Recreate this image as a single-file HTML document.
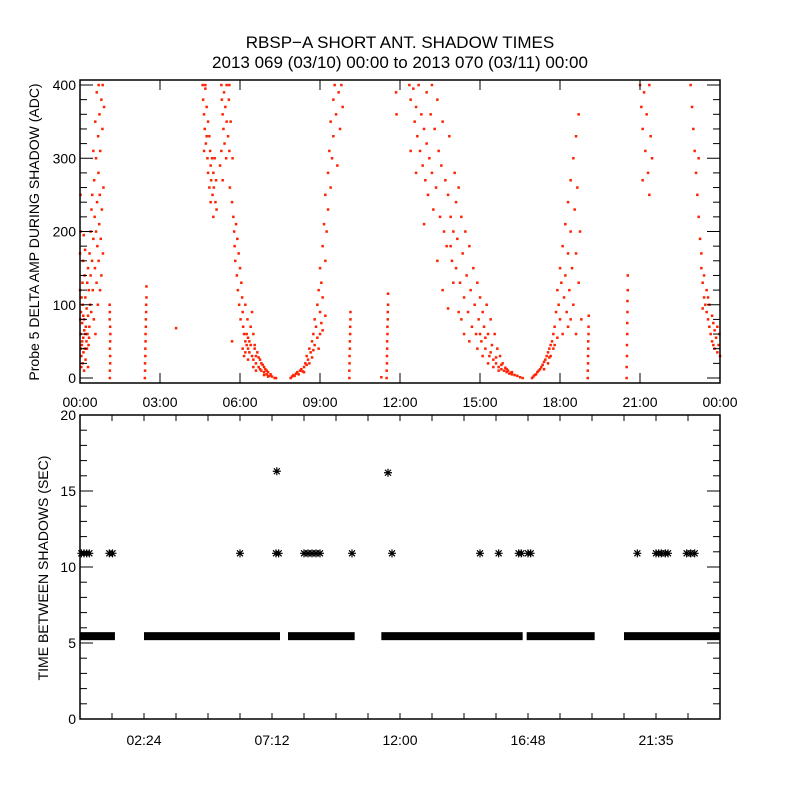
<!DOCTYPE html>
<html><head><meta charset="utf-8"><style>
html,body{margin:0;padding:0;background:#fff;}
svg{display:block;font-family:"Liberation Sans",sans-serif;}
</style></head><body>
<svg id="chart" width="800" height="800" viewBox="0 0 800 800">
<rect width="800" height="800" fill="#fff"/>
<text x="400" y="48" text-anchor="middle" font-size="17">RBSP−A SHORT ANT. SHADOW TIMES</text>
<text x="400" y="68" text-anchor="middle" font-size="17">2013 069 (03/10) 00:00 to 2013 070 (03/11) 00:00</text>
<g id="topPanel"></g>
<g id="botPanel"></g>
</svg>
<script>
// ---------- data: top panel (hours, ADC) ----------
const probePts = [
[0.02,60],[0.04,90],[0.05,30],[0.07,45],[0.08,75],[0.1,20],[0.1,100],[0.12,55],[0.13,35],[0.15,80],[0.16,65],[0.18,40],[0.2,110],[0.21,25],[0.22,70],[0.24,50],[0.25,95],[0.27,130],[0.28,60],[0.3,85],[0.3,150],[0.32,45],[0.33,120],[0.35,70],[0.36,170],[0.38,100],[0.4,140],[0.4,200],[0.42,90],[0.43,230],[0.45,160],[0.46,250],[0.48,120],[0.5,190],[0.5,310],[0.52,80],[0.53,270],[0.55,220],[0.56,150],[0.57,350],[0.58,60],[0.6,200],[0.6,300],[0.62,130],[0.63,390],[0.64,240],[0.65,180],[0.67,100],[0.68,330],[0.69,280],[0.7,160],[0.7,400],[0.72,210],[0.73,360],[0.74,250],[0.75,120],[0.76,310],[0.78,190],[0.8,380],[0.8,140],[0.82,230],[0.84,340],[0.85,400],[0.86,170],[0.88,260],[0.9,370],[0.05,15],[0.15,10],[0.3,15],[0.02,200],[0.02,250],[0,120],[0,170],[0.01,80],[0.03,40],[0.06,110],[0.09,130],[0.11,160],[0.14,195],[0.17,140],[0.19,175],[0.08,50],[0.12,85],[0.2,60],[0.26,40],[0.34,55],
[1.12,0],[1.12,10],[1.13,20],[1.13,30],[1.12,40],[1.13,50],[1.14,60],[1.13,70],[1.11,80],[1.12,90],[1.11,100],
[2.43,0],[2.44,10],[2.44,20],[2.45,30],[2.45,40],[2.46,50],[2.46,60],[2.47,70],[2.47,80],[2.48,90],[2.48,100],[2.49,110],[2.49,125],
[3.6,68],
[4.6,400],[4.62,380],[4.65,360],[4.7,395],[4.68,340],[4.72,320],[4.75,370],[4.78,300],[4.8,350],[4.8,280],[4.85,330],[4.85,260],[4.88,310],[4.9,290],[4.9,240],[4.92,270],[4.95,300],[4.97,250],[5,280],[5,220],[5.02,260],[5.05,300],[5.08,240],[5.1,270],[5.12,230],[4.65,310],[4.7,400],[4.75,330],
[5.3,400],[5.32,380],[5.35,360],[5.38,340],[5.4,390],[5.42,320],[5.45,370],[5.48,300],[5.5,400],[5.5,350],[5.55,330],[5.58,380],[5.6,400],[5.6,310],[5.62,260],[5.65,350],[5.7,240],[5.72,300],[5.3,310],[5.25,290],[5.35,270],
[5.75,220],[5.78,200],[5.8,180],[5.82,160],[5.85,210],[5.88,140],[5.9,190],[5.92,120],[5.95,170],[5.97,100],[6,150],[6.02,80],[6.05,130],[6.08,110],[6.1,90],[6.12,70],[6.15,60],[6.2,50],[6.2,100],[6.25,45],[6.28,80],[6.3,40],[6.35,35],[6.4,70],[6.45,30],[6.5,60],[6.5,25],[6.55,45],[6.6,20],[6.65,35],[6.7,15],[6.75,25],[6.8,10],[6.85,18],[6.9,8],[6.95,12],[7,5],[7.05,8],[7.1,3],[7.15,5],[7.2,2],[7.3,0],[7.35,0],[6.3,55],[6.4,45],[6.45,90],[6.6,30],[6.7,28],[6.8,20],[6.9,15],[7,10],[6.1,40],[6.15,30],[6.25,60],[6.35,50],[6.55,40],[5.7,50],[6.2,35],[6.3,25],[6.5,15],[6.6,10],[6.75,12],[6.9,4],[7.05,2],
[7.9,0],[7.95,2],[8,4],[8.05,3],[8.1,6],[8.15,8],[8.2,5],[8.25,10],[8.3,12],[8.35,9],[8.4,15],[8.45,20],[8.5,18],[8.5,30],[8.55,25],[8.6,40],[8.65,35],[8.7,50],[8.7,28],[8.75,60],[8.8,45],[8.8,80],[8.85,70],[8.9,100],[8.9,55],[8.95,120],[9,90],[9,150],[9.05,130],[9.1,180],[9.1,110],[9.15,210],[9.2,160],[9.2,250],[9.25,200],[9.3,280],[9.3,230],[9.35,310],[9.4,260],[9.4,350],[9.45,300],[9.5,380],[9.5,330],[9.55,400],[9.6,360],[9.65,290],[9.7,390],[9.75,340],[9.8,400],[9.85,370],[9,60],[9.05,75],[8.95,40],[9.1,65],[9.2,85],[8.6,20],[8.4,8],[8.75,38],
[10.1,0],[10.1,10],[10.11,20],[10.11,30],[10.12,40],[10.12,50],[10.13,60],[10.13,70],[10.14,80],[10.14,90],
[11.5,0],[11.5,10],[11.51,20],[11.51,30],[11.52,40],[11.52,50],[11.53,60],[11.53,70],[11.54,80],[11.54,90],[11.55,100],[11.55,115],
[11.85,390],[11.87,360],[11.3,1],
[12.35,400],[12.4,380],[12.5,395],[12.55,350],[12.6,370],[12.65,330],[12.7,400],[12.75,310],[12.8,360],[12.85,290],[12.9,340],[12.95,270],[13,390],[13,320],[13.05,250],[13.1,300],[13.15,360],[13.2,400],[13.2,280],[13.25,230],[13.3,340],[13.35,260],[13.4,380],[13.45,310],[13.5,220],[13.55,290],[13.6,350],[13.65,200],[13.7,270],[13.75,180],[13.8,250],[13.85,330],[13.9,220],[13.95,160],[14,200],[14.05,280],[14.1,240],[14.1,150],[14.15,190],[14.2,260],[14.25,130],[14.3,220],[14.35,170],[14.4,110],[14.45,200],[14.5,140],[14.55,90],[14.6,180],[14.65,120],[14.7,70],[14.75,150],[14.8,100],[14.85,60],[14.9,130],[14.95,80],[15,110],[15.05,50],[15.1,90],[15.15,70],[15.2,40],[15.25,100],[15.3,60],[15.35,30],[15.4,80],[15.45,45],[15.5,25],[15.55,60],[15.6,20],[15.65,40],[15.7,15],[15.75,30],[15.8,12],[15.85,20],[15.9,10],[15.95,14],[16,8],[16.05,10],[16.1,6],[16.15,7],[16.2,5],[16.3,4],[16.4,3],[16.5,1],[16.6,0],[13.9,180],[14,130],[14.3,80],[14.6,50],[14.9,40],[15.1,30],[15.3,20],[15.5,15],[15.7,10],[14.2,90],[14.4,60],[13.4,160],[13.6,120],[12.6,280],[12.9,210],[12.4,310],[13.8,95],[15.0,60],[15.2,55],[15.4,35],[15.6,28],[15.8,18],[16.0,12],[16.2,8],
[16.95,0],[17,2],[17.05,4],[17.1,5],[17.15,8],[17.2,10],[17.25,12],[17.3,15],[17.35,18],[17.4,22],[17.45,25],[17.5,30],[17.55,35],[17.6,40],[17.65,45],[17.7,50],[17.55,20],[17.65,30],[17.75,40],[17.8,70],[17.75,60],[17.85,90],[17.9,55],[17.9,120],[17.95,100],[18,80],[18,150],[18.05,130],[18.1,180],[18.1,60],[18.15,110],[18.2,210],[18.2,140],[18.25,90],[18.3,240],[18.3,170],[18.35,120],[18.4,270],[18.4,200],[18.45,150],[18.5,300],[18.5,100],[18.55,230],[18.6,330],[18.6,170],[18.65,260],[18.7,130],[18.7,360],[18.75,200],[18.8,80],[18.4,80],[18.6,60],[18.3,70],[17.4,12],[17.6,28],[17.8,45],
[19.04,0],[19.04,10],[19.05,20],[19.05,30],[19.06,40],[19.06,50],[19.07,60],[19.07,70],[19.08,85],
[20.5,0],[20.5,15],[20.51,30],[20.51,45],[20.52,60],[20.52,75],[20.53,90],[20.53,105],[20.54,120],[20.54,140],
[21,400],[21.05,370],[21.1,340],[21.15,390],[21.2,310],[21.25,360],[21.3,280],[21.35,250],[21.4,330],[21.45,300],[21.1,270],[21.35,400],
[22.9,400],[22.95,370],[23,340],[23.05,310],[23.1,280],[23.15,250],[23.2,220],[23.2,300],[23.25,190],[23.3,170],[23.3,150],[23.35,130],[23.4,110],[23.45,100],[23.5,90],[23.5,120],[23.55,80],[23.6,70],[23.6,100],[23.65,60],[23.7,85],[23.7,50],[23.75,75],[23.8,40],[23.8,65],[23.85,55],[23.9,35],[23.9,70],[23.95,45],[24,30],[23.4,140],[23.35,95],[23.55,110],[23.75,45],[23.98,60]
];
const probeTimes = probePts.map(p => p[0]);
const probeValues = probePts.map(p => p[1]);
const topXTicks = [0,3,6,9,12,15,18,21,24];
const topXLabels = ["00:00","03:00","06:00","09:00","12:00","15:00","18:00","21:00","00:00"];
const topYTicks = [0,100,200,300,400];

// ---------- data: bottom panel ----------
const bandStart = [0, 2.4, 7.8, 11.3, 16.75, 20.4];
const bandEnd   = [1.31, 7.5, 10.3, 16.6, 19.3, 24];
const bandValue = 5.45;
const starTimes  = [0.05,0.15,0.25,0.35,1.1,1.22,6.0,7.35,7.45,8.4,8.55,8.7,8.85,9.0,10.2,11.7,15.0,15.7,16.45,16.55,16.8,16.9,20.9,21.6,21.7,21.8,21.95,22.05,22.75,22.9,23.05,7.38,11.55];
const starValues = [10.9,10.9,10.9,10.9,10.9,10.9,10.9,10.9,10.9,10.9,10.9,10.9,10.9,10.9,10.9,10.9,10.9,10.9,10.9,10.9,10.9,10.9,10.9,10.9,10.9,10.9,10.9,10.9,10.9,10.9,10.9,16.3,16.2];
const botXTicks = [2.4,7.2,12,16.8,21.6];
const botXLabels = ["02:24","07:12","12:00","16:48","21:35"];
const botYTicks = [0,5,10,15,20];

const NS = "http://www.w3.org/2000/svg";
function mk(parent, tag, attrs){ const e=document.createElementNS(NS,tag); for(const k in attrs) e.setAttribute(k,attrs[k]); parent.appendChild(e); return e; }

// ---------- top panel ----------
const topG = document.getElementById('topPanel');
const L=80,R=720,T1=80,B1=383;
const tx = h => L + h/24*(R-L);
const ty = v => 378 - v*0.7325;
const topDots = mk(topG,'g',{});


for(let i=0;i<probeTimes.length;i++){
  const r = mk(topDots,'rect',{x:(tx(probeTimes[i])-1.25).toFixed(1),y:(ty(probeValues[i])-1.25).toFixed(1),width:2.5,height:2.5,fill:'#ff2200'});
  
  
}
let frameEl = mk(topG,'rect',{x:L,y:T1,width:R-L,height:B1-T1,fill:'none',stroke:'#000','stroke-width':1.5});


topXTicks.forEach((h,i)=>{
  mk(topG,'line',{x1:tx(h),x2:tx(h),y1:B1,y2:B1-10,stroke:'#000'});
  mk(topG,'line',{x1:tx(h),x2:tx(h),y1:T1,y2:T1+10,stroke:'#000'});
  const t=mk(topG,'text',{x:tx(h),y:B1+24,'text-anchor':'middle','font-size':14});
  t.textContent=topXLabels[i];
  
  
});
for(let v=0; v<=400; v+=20){
  const len = v%100===0?13:7;
  mk(topG,'line',{x1:L,x2:L+len,y1:ty(v),y2:ty(v),stroke:'#000'});
  mk(topG,'line',{x1:R,x2:R-len,y1:ty(v),y2:ty(v),stroke:'#000'});
}
topYTicks.forEach(v=>{
  const t=mk(topG,'text',{x:L-4,y:ty(v)+5,'text-anchor':'end','font-size':14});
  t.textContent=v;
  
  
});
let yt=mk(topG,'text',{x:0,y:0,'text-anchor':'middle','font-size':14,transform:'translate(39,232) rotate(-90)'});
yt.textContent='Probe 5 DELTA AMP DURING SHADOW (ADC)';



// ---------- bottom panel ----------
const botG = document.getElementById('botPanel');
const T2=415,B2=719;
const by = v => B2 - v/20*(B2-T2);
for(let i=0;i<bandStart.length;i++){
  const r=mk(botG,'rect',{x:tx(bandStart[i]),y:by(bandValue)-4,width:tx(bandEnd[i])-tx(bandStart[i]),height:8,fill:'#000'});
  
  
}
for(let i=0;i<starTimes.length;i++){
  const cx=tx(starTimes[i]), cy=by(starValues[i]);
  const s=mk(botG,'path',{d:`M${cx-4},${cy}H${cx+4}M${cx},${cy-4}V${cy+4}M${cx-3},${cy-3}L${cx+3},${cy+3}M${cx-3},${cy+3}L${cx+3},${cy-3}`,stroke:'#000','stroke-width':1.2,fill:'none'});
  
  
}
frameEl = mk(botG,'rect',{x:L,y:T2,width:R-L,height:B2-T2,fill:'none',stroke:'#000','stroke-width':1.5});


for(let h=1.2; h<24; h+=1.2){
  mk(botG,'line',{x1:tx(h),x2:tx(h),y1:B2,y2:B2-6,stroke:'#000'});
  mk(botG,'line',{x1:tx(h),x2:tx(h),y1:T2,y2:T2+6,stroke:'#000'});
}
botXTicks.forEach((h,i)=>{
  const t=mk(botG,'text',{x:tx(h),y:B2+26,'text-anchor':'middle','font-size':14});
  t.textContent=botXLabels[i];
  
  
});
for(let v=0; v<=20; v+=1){
  const len = v%5===0?13:7;
  mk(botG,'line',{x1:L,x2:L+len,y1:by(v),y2:by(v),stroke:'#000'});
  mk(botG,'line',{x1:R,x2:R-len,y1:by(v),y2:by(v),stroke:'#000'});
}
botYTicks.forEach(v=>{
  const t=mk(botG,'text',{x:L-4,y:by(v)+5,'text-anchor':'end','font-size':14});
  t.textContent=v;
  
  
});
yt=mk(botG,'text',{x:0,y:0,'text-anchor':'middle','font-size':14,transform:'translate(48,568) rotate(-90)'});
yt.textContent='TIME BETWEEN SHADOWS (SEC)';


</script>
</body></html>
